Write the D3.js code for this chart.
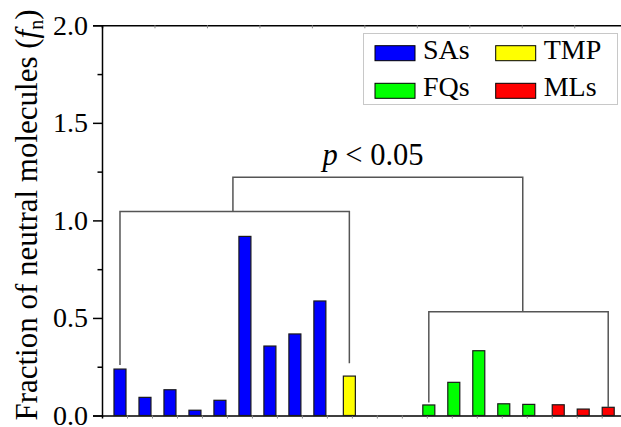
<!DOCTYPE html>
<html>
<head>
<meta charset="utf-8">
<script src="https://cdn.jsdelivr.net/npm/d3@7"></script>
<style>
  body { margin: 0; background: #fff; }
  svg { display: block; overflow: hidden; }
</style>
</head>
<body>
<div id="chart"></div>
<script>
// compound names per class, x slot in plot units, fraction of neutral molecules
const categories = ["SA1", "SA2", "SA3", "SA4", "SA5", "SA6", "SA7", "SA8", "SA9",
  "TMP", "FQ1", "FQ2", "FQ3", "FQ4", "FQ5", "ML1", "ML2", "ML3"];
const groups = ["SAs", "SAs", "SAs", "SAs", "SAs", "SAs", "SAs", "SAs", "SAs",
  "TMP", "FQs", "FQs", "FQs", "FQs", "FQs", "MLs", "MLs", "MLs"];
const xSlots = [0.72, 1.72, 2.72, 3.72, 4.72, 5.72, 6.72, 7.72, 8.72,
  9.9, 13.08, 14.08, 15.08, 16.08, 17.08, 18.26, 19.26, 20.26];
const fn = [0.238, 0.093, 0.132, 0.027, 0.078, 0.918, 0.356, 0.418, 0.587,
  0.202, 0.054, 0.170, 0.332, 0.060, 0.057, 0.055, 0.033, 0.042];

const legendNames = ["SAs", "TMP", "FQs", "MLs"];
const legendColors = ["#0000ff", "#ffff00", "#00ff00", "#ff0000"];
const yTicks = [0, 0.5, 1.0, 1.5, 2.0];
const yMinorTicks = [0.25, 0.75, 1.25, 1.75];

// significance brackets: [x1, x2, yTop, drop1, drop2]
const brackets = [
  [0.72, 9.9, 1.045, 0.259, 0.268],
  [13.08, 20.26, 0.532, 0.066, 0.042],
  [5.24, 16.84, 1.221, 1.045, 0.532]
];

const serif = "'Liberation Serif', 'Times New Roman', Times";

const W = 621, H = 427;
const margin = { top: 25.3, left: 102, bottom: 11.5 };
const plotRight = 626.7;

const color = d3.scaleOrdinal().domain(legendNames).range(legendColors);

const x = d3.scaleLinear().domain([0, 21]).range([margin.left, plotRight]);
const y = d3.scaleLinear().domain([0, 2]).range([H - margin.bottom, margin.top]);

const svg = d3.select("#chart").append("svg")
  .attr("width", W)
  .attr("height", H)
  .style("font-family", serif);

// bottom axis, small ticks only
svg.append("g")
  .attr("transform", "translate(0," + y(0) + ")")
  .call(d3.axisBottom(x).tickValues(d3.range(1, 21)).tickSize(3).tickFormat(""))
  .call(g => g.select(".domain").attr("stroke", "#000").attr("stroke-width", 1.5))
  .call(g => g.selectAll(".tick line").attr("stroke", "#888"));

// top frame
svg.append("g")
  .attr("transform", "translate(0," + y(2) + ")")
  .call(d3.axisTop(x).tickValues(d3.range(1, 10).map(i => i * 2.1)).tickSize(-3).tickFormat(""))
  .call(g => g.select(".domain").attr("stroke", "#000").attr("stroke-width", 1.5))
  .call(g => g.selectAll(".tick line").attr("stroke", "#888"));

// left axis
svg.append("g")
  .attr("transform", "translate(" + margin.left + ",0)")
  .call(d3.axisLeft(y).tickValues(yMinorTicks).tickSize(4.5).tickFormat(""))
  .call(g => g.select(".domain").remove())
  .call(g => g.selectAll(".tick line").attr("stroke", "#000").attr("stroke-width", 1.5));

svg.append("g")
  .attr("transform", "translate(" + margin.left + ",0)")
  .call(d3.axisLeft(y).tickValues(yTicks).tickSize(9).tickPadding(5).tickFormat(d3.format(".1f")))
  .call(g => g.attr("font-family", null))
  .call(g => g.select(".domain").attr("stroke", "#000").attr("stroke-width", 1.5))
  .call(g => g.selectAll(".tick line").attr("stroke", "#000").attr("stroke-width", 1.5))
  .call(g => g.selectAll(".tick text")
    .style("font-family", serif)
    .style("font-size", "28px")
    .attr("fill", "#000"));

// y label
const yLabel = svg.append("text")
  .attr("transform", "translate(37," + 215 + ") rotate(-90)")
  .attr("text-anchor", "middle")
  .style("font-family", serif)
  .style("font-size", "31px");
yLabel.append("tspan").text("Fraction of neutral molecules (");
yLabel.append("tspan").style("font-style", "italic").text("f");
yLabel.append("tspan").attr("dy", 6).style("font-size", "20px").text("n");
yLabel.append("tspan").attr("dy", -6).text(")");

// bars
const barW = 12;
const rows = categories.map((c, i) => ({ name: c, group: groups[i], x: xSlots[i], v: fn[i] }));

svg.append("g")
  .selectAll("rect")
  .data(rows)
  .join("rect")
  .attr("x", d => x(d.x) - barW / 2)
  .attr("y", d => y(d.v))
  .attr("width", barW)
  .attr("height", d => y(0) - y(d.v))
  .attr("fill", d => color(d.group))
  .attr("stroke", "#1a1a1a")
  .attr("stroke-width", 1.2);

// brackets
const line = d3.line();
svg.append("g")
  .selectAll("path")
  .data(brackets)
  .join("path")
  .attr("d", b => line([
    [x(b[0]), y(b[3])], [x(b[0]), y(b[2])], [x(b[1]), y(b[2])], [x(b[1]), y(b[4])]
  ]))
  .attr("fill", "none")
  .attr("stroke", "#555")
  .attr("stroke-width", 1.5);

const pText = svg.append("text")
  .attr("x", 373)
  .attr("y", 165)
  .attr("text-anchor", "middle")
  .style("font-family", serif)
  .style("font-size", "30.5px");
pText.append("tspan").style("font-style", "italic").text("p");
pText.append("tspan").text(" < 0.05");

// legend
const legend = svg.append("g");
legend.append("rect")
  .attr("x", 363.5)
  .attr("y", 33.5)
  .attr("width", 254)
  .attr("height", 71)
  .attr("fill", "#fff")
  .attr("stroke", "#c8c8c8")
  .attr("stroke-width", 1);

const legendItems = legend.selectAll("g.item")
  .data(legendNames)
  .join("g")
  .attr("class", "item")
  .attr("transform", (d, i) => "translate(" + (375 + (i % 2) * 120.7) + "," + (45.7 + Math.floor(i / 2) * 37.6) + ")");

legendItems.append("rect")
  .attr("width", 40)
  .attr("height", 15)
  .attr("fill", d => color(d))
  .attr("stroke", "#000")
  .attr("stroke-width", 1);

legendItems.append("text")
  .attr("x", 48)
  .attr("y", 13)
  .style("font-family", serif)
  .style("font-size", "28px")
  .text(d => d);
</script>
</body>
</html>
